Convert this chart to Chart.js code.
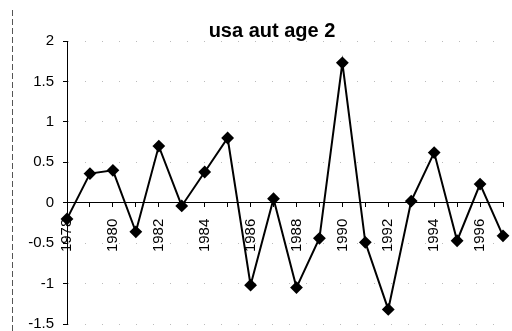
<!DOCTYPE html>
<html>
<head>
<meta charset="utf-8">
<script src="https://cdn.jsdelivr.net/npm/chart.js@4/dist/chart.umd.min.js"></script>
<style>
  html, body { margin: 0; padding: 0; background: #fff; }
  #wrap { width: 512px; height: 331px; position: relative; }
</style>
</head>
<body>
<div id="wrap"><canvas id="c" width="512" height="331"></canvas></div>
<script>
// Yearly series, age 2
const years = ['1978','1979','1980','1981','1982','1983','1984','1985','1986','1987',
               '1988','1989','1990','1991','1992','1993','1994','1995','1996','1997'];
const values = [-0.2, 0.36, 0.40, -0.36, 0.70, -0.04, 0.38, 0.80, -1.02, 0.05,
                -1.05, -0.44, 1.73, -0.49, -1.32, 0.02, 0.62, -0.47, 0.23, -0.41];
const chartTitle = 'usa aut age 2';

const FONT = '"Liberation Sans", Arial, sans-serif';

// Title text and the dashed frame edge on the left
const decor = {
  id: 'decor',
  afterDraw(chart) {
    const ctx = chart.ctx;
    ctx.save();
    ctx.fillStyle = '#000';
    ctx.font = 'bold 20px ' + FONT;
    ctx.textAlign = 'center';
    ctx.textBaseline = 'alphabetic';
    ctx.fillText(chartTitle, 272, 37);
    ctx.strokeStyle = '#555';
    ctx.lineWidth = 1;
    ctx.setLineDash([6, 3]);
    ctx.beginPath();
    ctx.moveTo(12.5, 10);
    ctx.lineTo(12.5, 331);
    ctx.stroke();
    ctx.restore();
  }
};

new Chart(document.getElementById('c'), {
  type: 'line',
  data: {
    labels: years,
    datasets: [{
      data: values,
      borderColor: '#000',
      backgroundColor: '#000',
      borderWidth: 2,
      tension: 0,
      pointStyle: 'rectRot',
      pointRadius: 5,
      pointBackgroundColor: '#000',
      pointBorderColor: '#000'
    }]
  },
  options: {
    responsive: false,
    animation: false,
    layout: { padding: { left: 0, right: 9, top: 41, bottom: -7 } },
    plugins: { legend: { display: false }, title: { display: false }, tooltip: { enabled: false } },
    scales: {
      x: {
        type: 'category',
        offset: false,
        position: { y: 0 },
        afterFit(scale) {
          // the axis sits inside the plot at y = 0, so it takes no room of its own
          scale.height = 0;
          scale.paddingLeft = 0; scale.paddingRight = 0;
          scale.paddingTop = 0; scale.paddingBottom = 0;
        },
        border: { display: true, color: '#000', width: 1 },
        grid: { display: true, drawOnChartArea: false, drawTicks: true, tickLength: 4, color: '#000' },
        ticks: {
          autoSkip: false,
          minRotation: 90,
          maxRotation: 90,
          padding: 12,
          color: '#000',
          font: { family: FONT, size: 15 },
          callback: function (v, i) { return i % 2 === 0 ? years[i] : ''; }
        }
      },
      y: {
        min: -1.5,
        max: 2,
        afterFit(scale) {
          scale.width = 67;
          scale.paddingTop = 0; scale.paddingBottom = 0;
        },
        border: { display: true, color: '#000', width: 1, dash: [1, 16] },
        grid: { color: '#bbbbbb', lineWidth: 1, tickLength: 4, tickColor: '#000', drawTicks: true, tickBorderDash: [] },
        ticks: {
          stepSize: 0.5,
          padding: 9,
          color: '#000',
          font: { family: FONT, size: 15, lineHeight: 1.0 },
          callback: function (v) { return String(+v.toFixed(2)); }
        }
      }
    }
  },
  plugins: [decor]
});
</script>
</body>
</html>
